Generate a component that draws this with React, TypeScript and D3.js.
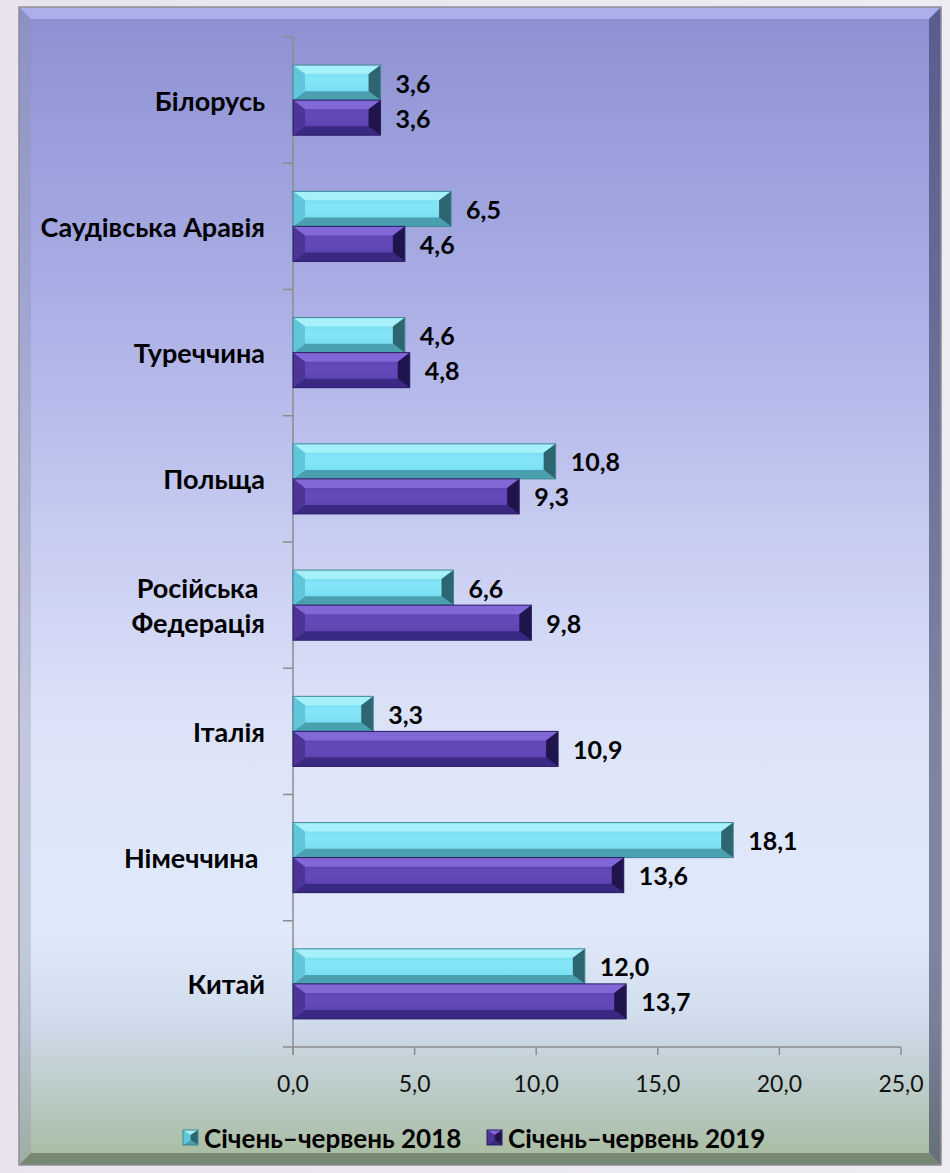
import React from "react";
import * as d3 from "d3";

// categories top -> bottom
const categories = [
  "Білорусь",
  "Саудівська Аравія",
  "Туреччина",
  "Польща",
  "Російська\u00A0\nФедерація",
  "Італія",
  "Німеччина\u00A0",
  "Китай",
];
const values2018 = [3.6, 6.5, 4.6, 10.8, 6.6, 3.3, 18.1, 12.0];
const values2019 = [3.6, 4.6, 4.8, 9.3, 9.8, 10.9, 13.6, 13.7];
const seriesNames = ["Січень–червень 2018", "Січень–червень 2019"];
const xTicks = [0, 5, 10, 15, 20, 25];

const W = 950;
const H = 1173;
const FONT = "Lato, 'Open Sans', 'DejaVu Sans', sans-serif";

const palettes = [
  { face: "#6fd8ee", hi: "#86e6f7", top: "#a6f0fb", bottom: "#4a9fb0", left: "#62c6da", right: "#2d6670", edge: "#3f8795" },
  { face: "#5840aa", hi: "#6549bb", top: "#8268d6", bottom: "#3a2982", left: "#4c3597", right: "#20144c", edge: "#2b1e66" },
];

const fmt = (v: number) => d3.format(".1f")(v).replace(".", ",");

// bar with bevelled edges, like the Excel chart
const Bevel = ({ x0, x1, y0, h, p, bx, by, id }: any) => {
  const y1 = y0 + h;
  const pts = (a: number[][]) => a.map((d) => d.join(",")).join(" ");
  return (
    <g>
      <defs>
        <linearGradient id={id} x1="0" x2="0" y1="0" y2="1">
          <stop offset="0" stopColor={p.face} />
          <stop offset="0.45" stopColor={p.hi} />
          <stop offset="1" stopColor={p.face} />
        </linearGradient>
      </defs>
      <rect x={x0} y={y0} width={x1 - x0} height={h} fill={`url(#${id})`} />
      <polygon points={pts([[x0, y0], [x1, y0], [x1 - bx, y0 + by], [x0 + bx, y0 + by]])} fill={p.top} />
      <polygon points={pts([[x0, y1], [x1, y1], [x1 - bx, y1 - by], [x0 + bx, y1 - by]])} fill={p.bottom} />
      <polygon points={pts([[x0, y0], [x0 + bx, y0 + by], [x0 + bx, y1 - by], [x0, y1]])} fill={p.left} />
      <polygon points={pts([[x1, y0], [x1 - bx, y0 + by], [x1 - bx, y1 - by], [x1, y1]])} fill={p.right} />
      <rect x={x0} y={y0} width={x1 - x0} height={h} fill="none" stroke={p.edge} strokeWidth={1} />
    </g>
  );
};

export default function App() {
  const x = d3.scaleLinear().domain([0, 25]).range([293, 901]);
  const y = d3
    .scaleBand<string>()
    .domain(categories)
    .range([37, 1047])
    .paddingInner(0.445)
    .paddingOuter(0.2225);
  const inner = d3.scaleBand<number>().domain([0, 1]).range([0, y.bandwidth()]);
  const step = y.step();
  const series = [values2018, values2019];

  // frame
  const fx0 = 19, fy0 = 7, fx1 = 941, fy1 = 1165, b = 12;

  return (
    <div style={{ position: "absolute", left: 0, top: 0 }}>
      <svg width={W} height={H} style={{ display: "block" }}>
        <defs>
          <linearGradient id="page" x1="0" x2="1" y1="0" y2="0">
            <stop offset="0" stopColor="#e9e3ee" />
            <stop offset="1" stopColor="#eeebf2" />
          </linearGradient>
          <linearGradient id="bg" x1="0" x2="0" y1="0" y2="1">
            <stop offset="0" stopColor="#8c90d1" />
            <stop offset="0.25" stopColor="#aaaee5" />
            <stop offset="0.45" stopColor="#c6cbf1" />
            <stop offset="0.62" stopColor="#dce3f8" />
            <stop offset="0.8" stopColor="#e0e9fb" />
            <stop offset="0.88" stopColor="#cfdbea" />
            <stop offset="0.95" stopColor="#b7c8bf" />
            <stop offset="1" stopColor="#a6bb9d" />
          </linearGradient>
        </defs>
        <rect width={W} height={H} fill="url(#page)" />

        {/* chart area with bevelled frame */}
        <rect x={fx0} y={fy0} width={fx1 - fx0} height={fy1 - fy0} fill="url(#bg)" />
        <polygon points={`${fx0},${fy0} ${fx1},${fy0} ${fx1 - b},${fy0 + b} ${fx0 + b},${fy0 + b}`} fill="#c4caff" opacity={0.55} />
        <polygon points={`${fx0},${fy0} ${fx0 + b},${fy0 + b} ${fx0 + b},${fy1 - b} ${fx0},${fy1}`} fill="#8f92a8" opacity={0.35} />
        <polygon points={`${fx1},${fy0} ${fx1 - b},${fy0 + b} ${fx1 - b},${fy1 - b} ${fx1},${fy1}`} fill="#2f3356" opacity={0.55} />
        <polygon points={`${fx0},${fy1} ${fx1},${fy1} ${fx1 - b},${fy1 - b} ${fx0 + b},${fy1 - b}`} fill="#3c4a3a" opacity={0.45} />
        <rect x={fx0} y={fy0} width={fx1 - fx0} height={fy1 - fy0} fill="none" stroke="#8d8d96" strokeWidth={1.5} />

        {/* y axis */}
        <g stroke="#8c8c8c" strokeWidth={1.5}>
          <line x1={x(0)} x2={x(0)} y1={37} y2={1047 + 8} />
          {d3.range(categories.length + 1).map((i) => (
            <line key={i} x1={x(0) - 10} x2={x(0)} y1={37 + i * step} y2={37 + i * step} />
          ))}
          {/* x axis */}
          <line x1={x(0)} x2={x(25)} y1={1047} y2={1047} />
          {xTicks.map((t) => (
            <line key={t} x1={x(t)} x2={x(t)} y1={1047} y2={1055} />
          ))}
        </g>
        {xTicks.map((t) => (
          <text key={t} x={x(t)} y={1083} textAnchor="middle" dominantBaseline="central"
            fontFamily={FONT} fontSize={23} fill="#111">
            {fmt(t)}
          </text>
        ))}

        {/* category labels */}
        {categories.map((c) => {
          const lines = c.split("\n");
          const cy = (y(c) as number) + y.bandwidth() / 2;
          return (
            <text key={c} x={265} textAnchor="end" fontFamily={FONT} fontWeight="bold" fontSize={27} fill="#000">
              {lines.map((l, i) => (
                <tspan key={i} x={265} y={cy + (i - (lines.length - 1) / 2) * 35} dominantBaseline="central">
                  {l}
                </tspan>
              ))}
            </text>
          );
        })}

        {/* bars */}
        {series.map((vals, si) =>
          vals.map((v, i) => {
            const y0 = (y(categories[i]) as number) + (inner(si) as number);
            const h = inner.bandwidth();
            return (
              <g key={`${si}-${i}`}>
                <Bevel id={`g${si}-${i}`} x0={x(0)} x1={x(v)} y0={y0} h={h} p={palettes[si]} bx={12} by={9} />
                <text x={x(v) + 15} y={y0 + h / 2} dominantBaseline="central" fontFamily={FONT}
                  fontWeight="bold" fontSize={25} fill="#000">
                  {fmt(v)}
                </text>
              </g>
            );
          })
        )}

        {/* legend */}
        {seriesNames.map((n, si) => {
          const lx = si === 0 ? 183 : 487;
          return (
            <g key={n}>
              <Bevel id={`lg${si}`} x0={lx} x1={lx + 15} y0={1130} h={15} p={palettes[si]} bx={7.5} by={5} />
              <text x={lx + 21} y={1138} dominantBaseline="central" fontFamily={FONT}
                fontWeight="bold" fontSize={26} fill="#000">
                {n}
              </text>
            </g>
          );
        })}
      </svg>
    </div>
  );
}
